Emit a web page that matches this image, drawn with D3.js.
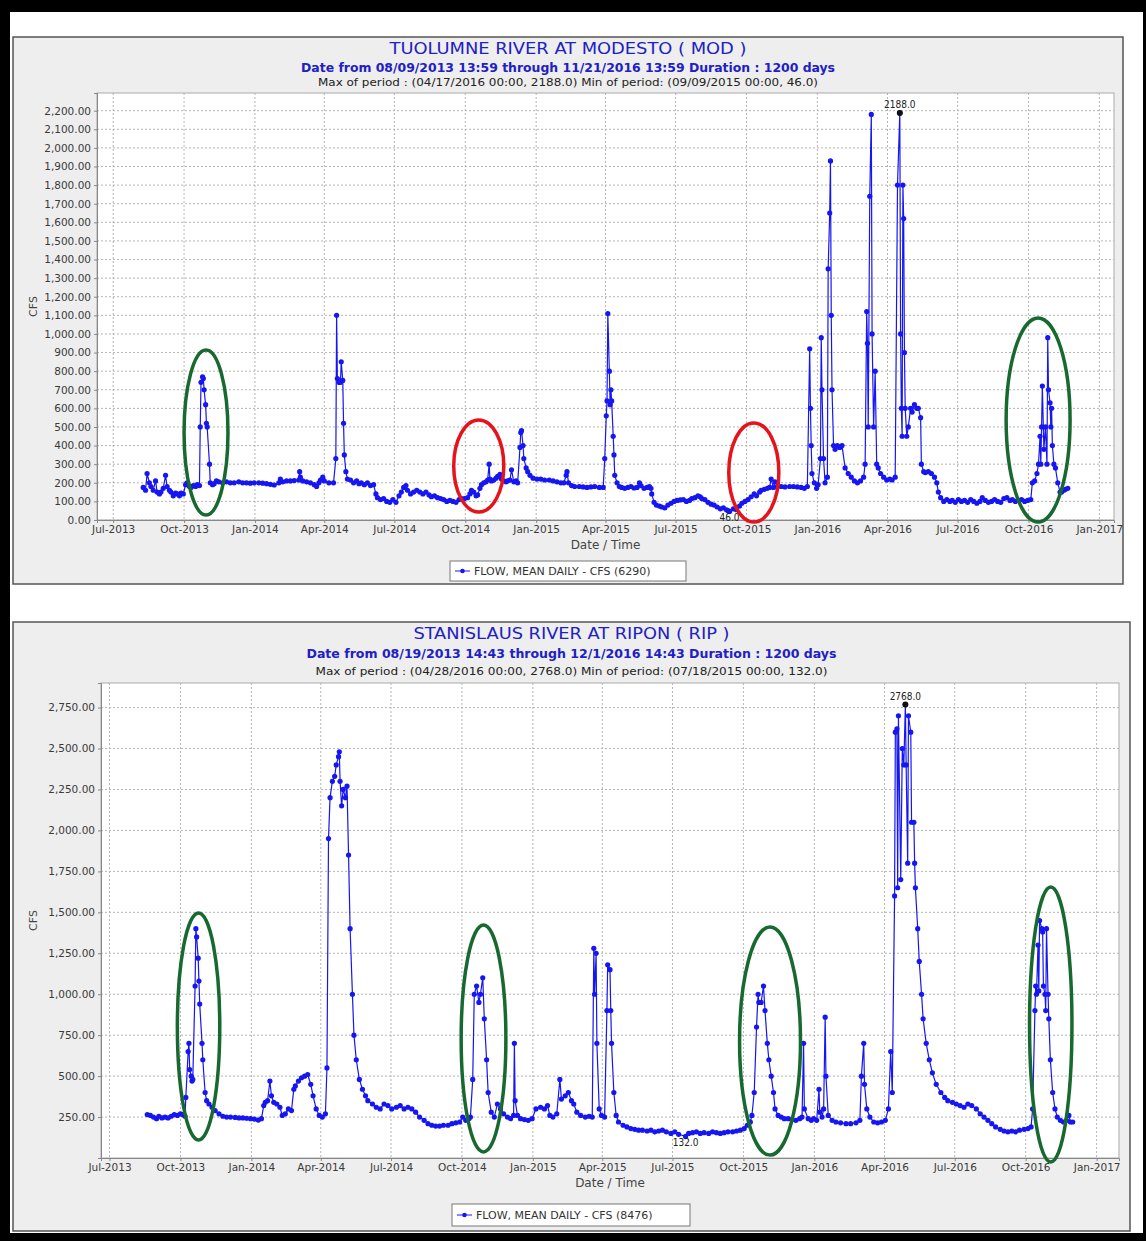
<!DOCTYPE html>
<html>
<head>
<meta charset="utf-8">
<script src="https://cdn.jsdelivr.net/npm/d3@7"></script>
<style>
  body { margin: 0; background: #fff; }
  svg text { font-family: "DejaVu Sans", sans-serif; }
</style>
</head>
<body>
<svg id="chart" width="1146" height="1241"></svg>
<script>

// ---- data (day offset from first reading, mean daily flow in cfs) ----
var modStart = "2013-08-09",
    ripStart = "2013-08-19";

var modFlow = [
  [0,175],[3,160],[5,250],[8,200],[10,180],[13,160],[16,210],[18,150],[21,140],[23,150],
  [26,170],[29,240],[31,180],[34,160],[36,150],[39,130],[42,145],[44,140],[47,130],[49,145],
  [52,140],[55,190],[57,200],[60,180],[62,175],[65,185],[68,180],[70,190],[73,185],[74,500],
  [75,740],[77,770],[78,760],[79,700],[81,620],[82,520],[83,500],[86,300],[87,200],[90,190],
  [92,195],[95,210],[98,205],[103,200],[108,205],[113,200],[118,200],[124,205],[129,200],[134,200],
  [139,198],[144,200],[150,200],[155,198],[160,195],[165,192],[170,188],[176,200],[178,220],[181,205],
  [186,210],[191,210],[196,212],[202,215],[203,260],[204,230],[207,210],[212,205],[217,200],[222,190],
  [225,180],[228,200],[230,215],[233,230],[235,210],[241,200],[247,200],[250,330],[251,1100],[252,760],
  [254,740],[255,740],[256,740],[257,850],[259,750],[260,520],[261,350],[263,260],[265,220],[269,215],
  [273,200],[277,210],[280,195],[283,200],[287,190],[291,200],[295,185],[299,190],[302,140],[304,120],
  [308,110],[312,115],[316,100],[320,95],[324,110],[328,95],[332,130],[335,150],[338,175],[341,185],
  [343,160],[347,140],[351,150],[355,160],[359,150],[363,140],[367,150],[371,135],[374,125],[378,130],
  [382,120],[386,115],[390,110],[394,100],[398,105],[402,100],[406,95],[410,110],[413,115],[417,115],
  [421,120],[424,140],[426,160],[429,150],[432,130],[434,135],[437,170],[439,190],[442,200],[445,205],
  [447,215],[449,300],[450,220],[452,210],[455,215],[458,225],[460,235],[463,245],[465,220],[468,210],
  [471,205],[473,210],[476,215],[478,270],[481,205],[484,210],[486,200],[489,390],[490,470],[491,480],
  [493,400],[494,330],[497,280],[499,260],[502,240],[506,225],[511,220],[516,220],[521,215],[527,215],
  [532,210],[537,205],[542,200],[546,200],[549,240],[550,260],[552,200],[556,185],[560,180],[566,180],
  [571,178],[576,175],[581,178],[586,180],[592,175],[597,175],[599,330],[601,560],[602,640],[603,1110],
  [605,800],[606,620],[607,700],[608,640],[610,450],[611,350],[612,240],[615,200],[618,180],[621,175],
  [625,170],[629,175],[633,180],[637,172],[641,175],[644,200],[646,185],[650,170],[654,175],[657,180],
  [659,170],[660,140],[663,95],[666,80],[670,75],[673,70],[677,65],[681,80],[685,90],[689,100],
  [693,105],[697,108],[701,110],[705,100],[709,105],[712,115],[716,120],[720,130],[723,125],[725,115],
  [729,110],[733,95],[737,85],[741,80],[745,70],[749,60],[753,65],[757,55],[759,50],[761,46],
  [766,60],[770,55],[774,75],[777,90],[781,100],[785,110],[789,125],[793,140],[796,130],[800,150],
  [802,160],[806,165],[810,170],[813,175],[815,220],[818,175],[820,205],[823,180],[828,180],[833,178],
  [839,180],[844,180],[849,178],[854,175],[858,170],[862,180],[865,920],[866,600],[867,400],[868,250],
  [871,200],[874,170],[876,190],[879,330],[880,980],[881,700],[883,330],[885,200],[888,230],[889,1350],
  [891,1650],[892,1930],[893,1100],[894,700],[896,400],[898,380],[901,400],[904,390],[907,400],[911,280],
  [915,250],[919,230],[923,210],[927,200],[931,210],[935,230],[937,300],[939,1120],[940,950],[941,500],
  [943,1740],[945,2180],[946,1000],[948,500],[950,800],[952,300],[954,280],[957,250],[961,230],[965,215],
  [969,220],[972,215],[976,230],[979,1800],[982,2188],[983,1000],[984,600],[985,450],[986,1800],[987,1620],
  [988,900],[989,600],[991,450],[993,500],[996,600],[998,580],[1001,620],[1004,600],[1006,600],[1009,550],
  [1010,300],[1013,260],[1015,255],[1019,260],[1023,250],[1027,230],[1030,200],[1032,150],[1035,120],[1039,100],
  [1043,110],[1047,100],[1050,105],[1054,95],[1058,110],[1062,100],[1066,105],[1070,95],[1074,110],[1078,100],
  [1082,90],[1086,100],[1089,120],[1093,105],[1097,95],[1101,100],[1105,110],[1109,100],[1113,95],[1117,115],
  [1121,120],[1125,105],[1128,110],[1132,100],[1136,105],[1140,110],[1144,100],[1148,105],[1152,110],[1154,200],
  [1157,210],[1160,250],[1162,300],[1164,450],[1165,300],[1166,500],[1167,720],[1169,380],[1171,500],[1173,300],
  [1174,980],[1175,700],[1177,630],[1178,500],[1179,600],[1180,400],[1182,300],[1184,280],[1187,200],[1190,150],
  [1192,150],[1195,160],[1197,165],[1200,170]
];

var ripFlow = [
  [0,265],[4,260],[8,250],[12,240],[15,255],[19,245],[23,250],[27,245],[31,255],[35,265],
  [39,260],[43,270],[46,265],[49,255],[50,370],[53,650],[54,700],[55,540],[57,500],[58,470],
  [59,480],[62,1050],[63,1400],[64,1350],[66,1220],[67,1080],[68,940],[71,700],[72,600],[75,400],
  [77,350],[80,330],[84,310],[88,290],[93,270],[98,255],[103,250],[108,250],[114,248],[119,245],
  [124,245],[129,243],[134,240],[139,238],[144,232],[148,240],[151,320],[153,340],[156,350],[159,470],
  [161,380],[164,340],[168,330],[172,310],[175,260],[179,270],[183,300],[187,290],[190,420],[192,440],
  [196,470],[200,490],[204,500],[208,510],[212,450],[215,380],[219,300],[223,260],[227,250],[231,270],
  [233,550],[235,1950],[237,2200],[240,2300],[243,2330],[245,2400],[248,2450],[249,2480],[250,2300],[252,2150],
  [254,2250],[257,2200],[259,2270],[261,1850],[263,1400],[266,1000],[268,750],[271,600],[275,480],[279,420],
  [283,380],[286,350],[292,330],[297,310],[302,300],[307,330],[312,320],[317,300],[323,310],[328,320],
  [333,300],[338,310],[343,300],[348,280],[353,250],[359,230],[364,210],[369,200],[374,195],[379,195],
  [384,200],[390,200],[395,210],[400,215],[405,220],[409,250],[413,230],[417,240],[419,250],[422,480],
  [424,1000],[427,1050],[430,950],[432,1000],[435,1100],[437,850],[440,600],[442,400],[446,280],[450,250],
  [454,330],[458,300],[462,270],[467,250],[471,240],[475,260],[476,700],[477,350],[480,260],[484,240],
  [489,235],[494,230],[499,240],[504,300],[510,310],[515,300],[519,320],[522,260],[526,250],[531,270],
  [535,480],[537,360],[542,380],[546,400],[550,350],[553,330],[557,280],[562,260],[568,250],[573,255],
  [577,250],[579,1280],[580,1000],[582,1250],[583,700],[586,300],[589,260],[593,250],[596,900],[597,1180],
  [600,1150],[601,900],[602,700],[605,400],[608,260],[611,220],[617,200],[622,190],[627,180],[632,175],
  [637,170],[642,170],[648,165],[653,170],[658,160],[663,165],[668,170],[673,160],[679,150],[684,160],
  [689,145],[698,132],[702,150],[707,155],[712,160],[717,150],[722,155],[728,150],[733,160],[738,155],
  [743,150],[748,155],[753,160],[759,160],[764,165],[769,170],[774,180],[778,200],[782,220],[784,260],
  [787,400],[790,800],[792,1000],[793,950],[796,950],[799,1050],[801,900],[804,700],[806,600],[809,500],
  [812,400],[814,300],[818,260],[822,250],[826,240],[831,240],[836,235],[841,230],[846,240],[849,250],
  [851,700],[852,300],[857,240],[861,230],[864,240],[868,230],[871,420],[872,280],[875,250],[877,300],
  [879,860],[880,500],[883,260],[888,230],[893,220],[899,215],[906,210],[912,210],[919,215],[924,230],
  [926,500],[929,700],[930,450],[933,300],[937,250],[942,220],[947,215],[952,220],[957,230],[961,300],
  [964,650],[966,400],[969,1600],[970,2600],[972,2620],[973,1650],[974,2700],[977,1700],[979,2500],[981,2400],
  [983,2768],[984,2400],[986,1800],[987,2700],[990,2600],[991,2050],[994,2050],[995,1800],[996,1650],[999,1400],
  [1001,1200],[1004,1000],[1006,850],[1010,700],[1014,600],[1018,520],[1023,450],[1029,400],[1034,370],[1038,350],
  [1044,340],[1049,330],[1054,320],[1059,310],[1064,330],[1069,320],[1075,300],[1080,270],[1085,250],[1090,230],
  [1095,210],[1100,190],[1106,175],[1111,165],[1116,160],[1121,165],[1126,160],[1131,170],[1137,175],[1142,180],
  [1146,190],[1148,300],[1151,900],[1152,1050],[1153,1000],[1155,1300],[1156,1020],[1157,1450],[1160,1400],[1161,1380],
  [1162,1050],[1164,1000],[1165,900],[1166,1400],[1168,1000],[1169,850],[1171,600],[1174,400],[1177,300],[1180,250],
  [1184,230],[1188,220],[1192,230],[1195,260],[1197,220],[1200,220]
];

// hand drawn call-outs: [from, to, low cfs, high cfs]
var modGreen = [["2013-10-01","2013-11-27",27,914], ["2016-09-02","2016-11-24",-11,1086]];
var modRed   = [["2014-09-16","2014-11-20",43,538], ["2015-09-08","2015-11-12",-11,522]];
var ripGreen = [["2013-09-27","2013-11-21",110,1496], ["2014-09-30","2014-11-27",37,1422],
                ["2015-09-26","2015-12-14",18,1410], ["2016-10-06","2016-11-30",-24,1654]];
var ripRed   = [];

var modYTicks = d3.range(0, 2201, 100),
    ripYTicks = d3.range(250, 2751, 250);

// ---- layout ----
var parseDay = d3.timeParse("%Y-%m-%d");
var fmtY = d3.format(",.2f"),
    fmtX = d3.timeFormat("%b-%Y");

var blue = "#1616f2",
    titleBlue = "#2020c4";

var svg = d3.select("#chart");

// outer black frame
svg.append("rect").attr("width", 1146).attr("height", 1241).attr("fill", "#000");
svg.append("rect").attr("x", 10).attr("y", 12).attr("width", 1133).attr("height", 1221).attr("fill", "#fff");

var panels = [
  {
    box: [13, 37, 1123, 584],
    plot: {l: 97, t: 93, r: 1114, b: 520},
    xDomain: ["2013-06-10", "2017-01-20"],
    yDomain: [0, 2295],
    yTicks: modYTicks,
    start: modStart, data: modFlow,
    title: "TUOLUMNE RIVER AT MODESTO ( MOD )", titleW: 357,
    sub: "Date from 08/09/2013 13:59 through 11/21/2016 13:59 Duration : 1200 days", subW: 534,
    stats: "Max of period : (04/17/2016 00:00, 2188.0)  Min of period: (09/09/2015 00:00,  46.0)", statsW: 500,
    titleY: [54, 72, 86],
    legend: "FLOW, MEAN DAILY - CFS (6290)", legBox: [450, 561, 686, 581],
    green: modGreen, red: modRed
  },
  {
    box: [13, 622, 1130, 1231],
    plot: {l: 101, t: 683, r: 1119, b: 1158},
    xDomain: ["2013-06-20", "2017-01-30"],
    yDomain: [0.2, 2900],
    yTicks: ripYTicks,
    start: ripStart, data: ripFlow,
    title: "STANISLAUS RIVER AT RIPON ( RIP )", titleW: 316,
    sub: "Date from 08/19/2013 14:43 through 12/1/2016 14:43 Duration : 1200 days", subW: 530,
    stats: "Max of period : (04/28/2016 00:00, 2768.0)  Min of period: (07/18/2015 00:00, 132.0)", statsW: 512,
    titleY: [639, 658, 675],
    legend: "FLOW, MEAN DAILY - CFS (8476)", legBox: [452, 1204, 690, 1226],
    green: ripGreen, red: ripRed
  }
];

panels.forEach(drawPanel);

function drawPanel(p) {
  var g = svg.append("g");
  var bx = p.box, pl = p.plot;
  var cx = (bx[0] + bx[2]) / 2;

  g.append("rect")
    .attr("x", bx[0]).attr("y", bx[1])
    .attr("width", bx[2] - bx[0]).attr("height", bx[3] - bx[1])
    .attr("fill", "#eeeeee").attr("stroke", "#555").attr("stroke-width", 1.5);

  // titles
  var lines = [
    {t: p.title, w: p.titleW, size: 16, weight: "normal", fill: titleBlue, fam: "DejaVu Sans Condensed"},
    {t: p.sub, w: p.subW, size: 12, weight: "bold", fill: titleBlue, fam: "DejaVu Sans Condensed"},
    {t: p.stats, w: p.statsW, size: 11, weight: "normal", fill: "#222", fam: "DejaVu Sans Condensed"}
  ];
  lines.forEach(function (l, i) {
    g.append("text")
      .attr("x", cx - l.w / 2).attr("y", p.titleY[i])
      .attr("textLength", l.w).attr("lengthAdjust", "spacingAndGlyphs")
      .style("font-family", l.fam).style("font-size", l.size + "px")
      .style("font-weight", l.weight).attr("fill", l.fill)
      .text(l.t);
  });

  var x = d3.scaleTime()
      .domain(p.xDomain.map(parseDay))
      .range([pl.l, pl.r]);
  var y = d3.scaleLinear()
      .domain(p.yDomain)
      .range([pl.b, pl.t]);

  g.append("rect")
    .attr("x", pl.l).attr("y", pl.t)
    .attr("width", pl.r - pl.l).attr("height", pl.b - pl.t)
    .attr("fill", "#fff").attr("stroke", "#aaa").attr("stroke-width", 1);

  var xTicks = d3.timeMonth.every(3).range(parseDay("2013-07-01"), parseDay("2017-01-02"));

  // grid
  g.append("g").selectAll("line").data(xTicks).enter().append("line")
    .attr("x1", d => x(d)).attr("x2", d => x(d))
    .attr("y1", pl.t).attr("y2", pl.b)
    .attr("stroke", "#b4b4b4").attr("stroke-width", 1).attr("stroke-dasharray", "2,2");
  g.append("g").selectAll("line").data(p.yTicks).enter().append("line")
    .attr("x1", pl.l).attr("x2", pl.r)
    .attr("y1", d => y(d)).attr("y2", d => y(d))
    .attr("stroke", "#b4b4b4").attr("stroke-width", 1).attr("stroke-dasharray", "2,2");

  // axes
  var axY = d3.axisLeft(y).tickValues(p.yTicks).tickFormat(fmtY).tickSize(3).tickPadding(3);
  var axX = d3.axisBottom(x).tickValues(xTicks).tickFormat(fmtX).tickSize(3).tickPadding(3);

  var gy = g.append("g").attr("transform", "translate(" + pl.l + ",0)").call(axY);
  var gx = g.append("g").attr("transform", "translate(0," + pl.b + ")").call(axX);
  [gx, gy].forEach(function (a) {
    a.select(".domain").attr("stroke", "#888");
    a.selectAll(".tick line").attr("stroke", "#888");
    a.selectAll("text").attr("fill", "#3a3a3a").style("font-size", "10.5px")
      .style("font-family", "DejaVu Sans");
  });

  g.append("text")
    .attr("transform", "translate(37," + ((pl.t + pl.b) / 2) + ") rotate(-90)")
    .attr("text-anchor", "middle").attr("fill", "#444")
    .style("font-size", "11px")
    .text("CFS");

  g.append("text")
    .attr("x", (pl.l + pl.r) / 2).attr("y", pl.b + 29)
    .attr("text-anchor", "middle").attr("fill", "#444")
    .style("font-size", "12px")
    .text("Date / Time");

  // series
  var t0 = parseDay(p.start);
  var pts = p.data.map(d => ({date: d3.timeDay.offset(t0, d[0]), v: d[1]}));

  var line = d3.line()
    .x(d => x(d.date))
    .y(d => y(d.v));

  g.append("path")
    .datum(pts)
    .attr("d", line)
    .attr("fill", "none").attr("stroke", blue).attr("stroke-width", 1.2);

  g.append("g").selectAll("circle").data(pts).enter().append("circle")
    .attr("cx", d => x(d.date)).attr("cy", d => y(d.v))
    .attr("r", 2.6).attr("fill", blue);

  // max / min marks
  var hi = d3.greatest(pts, d => d.v),
      lo = d3.least(pts, d => d.v);
  g.append("circle").attr("cx", x(hi.date)).attr("cy", y(hi.v)).attr("r", 3).attr("fill", "#111");
  g.append("text")
    .attr("x", x(hi.date)).attr("y", y(hi.v) - 5)
    .attr("text-anchor", "middle").attr("fill", "#222")
    .style("font-size", "10px").style("font-family", "DejaVu Sans Condensed")
    .text(hi.v.toFixed(1));
  g.append("text")
    .attr("x", x(lo.date)).attr("y", y(lo.v) + 10)
    .attr("text-anchor", "middle").attr("fill", "#222")
    .style("font-size", "10px").style("font-family", "DejaVu Sans Condensed")
    .text(lo.v.toFixed(1));

  // legend
  var lb = p.legBox;
  g.append("rect")
    .attr("x", lb[0]).attr("y", lb[1])
    .attr("width", lb[2] - lb[0]).attr("height", lb[3] - lb[1])
    .attr("fill", "#fff").attr("stroke", "#777").attr("stroke-width", 1);
  var ly = (lb[1] + lb[3]) / 2;
  g.append("line")
    .attr("x1", lb[0] + 5).attr("x2", lb[0] + 20)
    .attr("y1", ly).attr("y2", ly)
    .attr("stroke", blue).attr("stroke-width", 1);
  g.append("circle").attr("cx", lb[0] + 12.5).attr("cy", ly).attr("r", 2.3).attr("fill", blue);
  g.append("text")
    .attr("x", lb[0] + 24).attr("y", ly + 4)
    .attr("fill", "#333").style("font-size", "11px")
    .text(p.legend);

  // call-out ellipses
  function ring(list, colour) {
    g.append("g").selectAll("ellipse").data(list).enter().append("ellipse")
      .attr("cx", d => (x(parseDay(d[0])) + x(parseDay(d[1]))) / 2)
      .attr("cy", d => (y(d[2]) + y(d[3])) / 2)
      .attr("rx", d => (x(parseDay(d[1])) - x(parseDay(d[0]))) / 2)
      .attr("ry", d => (y(d[2]) - y(d[3])) / 2)
      .attr("fill", "none").attr("stroke", colour).attr("stroke-width", 3.5);
  }
  ring(p.green, "#18692f");
  ring(p.red, "#e5141c");
}
</script>
</body>
</html>
